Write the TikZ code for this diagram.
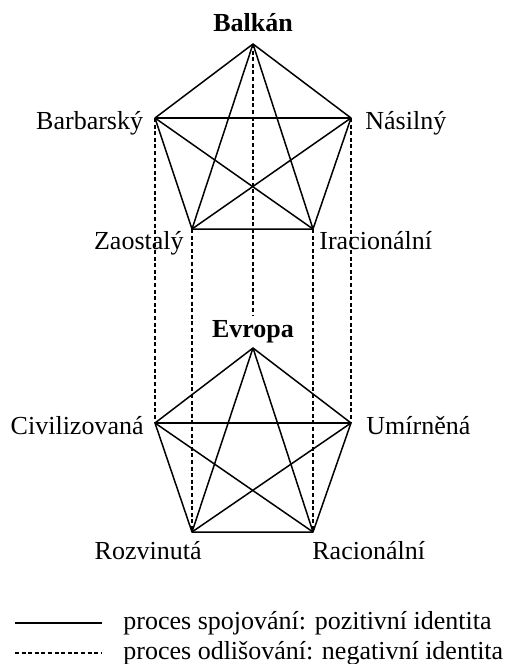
\documentclass[tikz,border=0pt]{standalone}
\usepackage{fontspec}
\setmainfont{Liberation Serif}
\begin{document}
\begin{tikzpicture}[x=0.5pt,y=-0.5pt,
  posline/.style={line width=0.75pt,line join=round},
  negline/.style={line width=0.65pt,dash pattern=on 2pt off 1.3pt},
  lbl/.style={inner sep=0pt,font=\fontsize{13}{15.6}\selectfont},
  ttl/.style={inner sep=0pt,font=\fontsize{13}{15.6}\selectfont\bfseries}]
\useasboundingbox (0,0) rectangle (512,664);
% top pentagon
\coordinate (bA) at (253,44);
\coordinate (bL) at (155,118);
\coordinate (bR) at (351,118);
\coordinate (bBL) at (192,229);
\coordinate (bBR) at (313,229);
% bottom pentagon
\coordinate (eA) at (253,348);
\coordinate (eL) at (155,423);
\coordinate (eR) at (351,423);
\coordinate (eBL) at (192,532);
\coordinate (eBR) at (313,532);
\coordinate (eTop) at (253,315);
% labels
\node[ttl,anchor=base] (balkan) at (253,32) {Balkán};
\node[lbl,anchor=base east] (barb) at (143.5,129) {Barbarský};
\node[lbl,anchor=base west] (nas) at (365,129) {Násilný};
\node[lbl,anchor=base east] (zao) at (184,249) {Zaostalý};
\node[lbl,anchor=base west] (ira) at (319,249) {Iracionální};
\node[ttl,anchor=base] (evropa) at (253,337) {Evropa};
\node[lbl,anchor=base east] (civ) at (144,434) {Civilizovaná};
\node[lbl,anchor=base west] (umi) at (366,434) {Umírněná};
\node[lbl,anchor=base east] (roz) at (202,559) {Rozvinutá};
\node[lbl,anchor=base west] (rac) at (312,559) {Racionální};
% solid complete graphs
\foreach \p in {b,e}{
  \draw[posline] (\p A) -- (\p L) -- (\p BL) -- (\p BR) -- (\p R) -- cycle;
  \draw[posline] (\p A) -- (\p BL);
  \draw[posline] (\p A) -- (\p BR);
  \draw[posline] (\p L) -- (\p R);
  \draw[posline] (\p L) -- (\p BR);
  \draw[posline] (\p R) -- (\p BL);
}
% dashed verticals
\draw[negline] (bA) -- (eTop);
\draw[negline] (bL) -- (eL);
\draw[negline] (bR) -- (eR);
\draw[negline] (bBL) -- (eBL);
\draw[negline] (bBR) -- (eBR);
% legend
\coordinate (l1a) at (15,623);
\coordinate (l1b) at (102,623);
\coordinate (l2a) at (15,653);
\coordinate (l2b) at (102,653);
\draw[posline] (l1a) -- (l1b);
\draw[negline] (l2a) -- (l2b);
\node[lbl,anchor=base west] (leg1) at (123,629) {proces spojování: pozitivní identita};
\node[lbl,anchor=base west] (leg2) at (123,659) {proces odlišování: negativní identita};
\end{tikzpicture}
\end{document}
